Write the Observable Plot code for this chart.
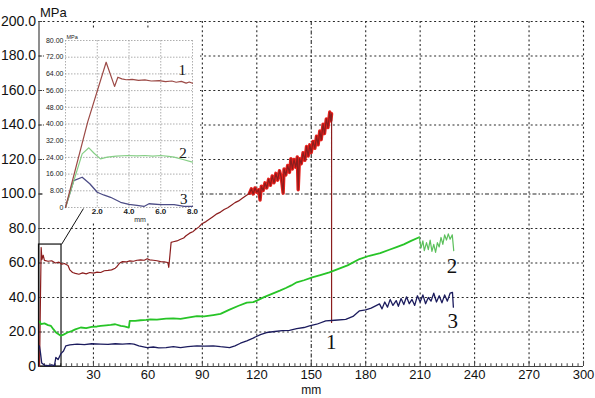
<!DOCTYPE html>
<html><head><meta charset="utf-8">
<script src="https://cdn.jsdelivr.net/npm/d3@7"></script>
<script src="https://cdn.jsdelivr.net/npm/@observablehq/plot@0.6"></script>
<style>
html,body{margin:0;padding:0;background:#fff;}
#wrap{position:relative;width:595px;height:398px;overflow:hidden;}
#wrap svg{position:absolute;left:0;top:0;}
</style></head><body><div id="wrap"></div>
<script>
// ---------- main chart data (mm, MPa) ----------
const xTicks = [30, 60, 90, 120, 150, 180, 210, 240, 270, 300];
const yTicks = [0, 20, 40, 60, 80, 100, 120, 140, 160, 180, 200];

const curve1 = [[0.3,0],[0.8,40],[1.2,69],[1.6,62],[2.3,64.5],[3,61.5],[5,61],[7,61.3],[9,60],[11,60.5],[12.6,59.3],[14,59.7],[16,58.5],[17,56],[18.5,54.5],[20,54],[22,53.5],[24,54.3],[26,53.7],[28,54.5],[30,54.1],[32,54.7],[34,54.5],[36,55.5],[38,55.7],[40,56],[42,57],[43,58],[44.5,60],[46,60.8],[48,60.6],[50,61.2],[52,61],[54,61.6],[56,61.8],[58,61.6],[59.6,62.5],[61,61.8],[63,61.6],[65,61.3],[67,60.8],[69,60.6],[71,60.3],[71.5,57.5],[72,63],[72.8,72],[74,72.3],[76,72.8],[78,73.8],[79.7,74.5],[81,75.8],[83,77.3],[85,78.3],[86,79.3],[88,80.8],[89.8,82.8],[92,84],[94,85.5],[96,87],[98,88.5],[100,89.5],[102,91],[104,92],[106,93.5],[108,95],[110,96],[112,97.5],[114,99],[116,100.5],[117,103],[118,100],[119,103.5],[120,101],[121,102.5],[121.8,96.5],[122.5,104.5],[123.5,102],[124.5,106.5],[125.5,103.5],[126.5,108.5],[127.5,105],[128.5,110.5],[129.5,106.5],[130.5,112],[131.5,108],[132.5,113.5],[133.5,109.5],[134.5,100.5],[135,114.5],[136,111],[137,116.5],[138,112.5],[138.8,120.5],[139.6,114.5],[140.5,120],[141.5,115.5],[142.3,121.5],[142.8,102.5],[143.5,120.5],[144.5,117.5],[145.5,124],[146.5,119.5],[147.4,127.5],[148.3,122],[149.2,128.5],[150,124],[151,130.5],[152,126.5],[152.9,133.5],[153.8,128.5],[154.7,136.5],[155.5,131.5],[156.5,140.5],[157.3,135],[158.3,143.5],[159.2,138.5],[160.2,147.5],[160.8,142.5],[161.2,146.5],[161.2,25.5]];
const curve1Noisy = curve1.filter(d => d[0] >= 116 && d[1] > 60);

const curve2 = [[0.5,26],[1,24.5],[3,25],[5,24],[6.6,23.5],[8,21.5],[9.4,19.7],[11,18.5],[12,17.8],[13.5,18.5],[15.7,19.7],[18,20.5],[20,21.5],[23,22.6],[26,22.3],[29,23],[32,23.2],[34,23.5],[37,23.8],[39.5,24.1],[42,24.5],[45,23.5],[47,23.2],[49.5,22.6],[50,26.4],[53,26.5],[56,26.8],[59,27],[61.4,27.3],[65,27.2],[70,27.8],[74,27.9],[78,27.6],[82,28.3],[87,29.2],[91,29],[96,29.8],[100,30.5],[105,33],[110,35.2],[114.5,37],[118,37.3],[120,38.2],[124,40.2],[128,42],[132.7,44],[136,45.5],[139,47],[142,48.8],[146,50],[151,51.8],[155,53],[160,54.6],[165,56.6],[170,58.6],[176.6,62.3],[182,64.2],[188,65.7],[193,67.7],[197,69.2],[201,70.8],[205,72.8],[209.5,74.9]];
const curve2Tail = [[209.5,74.9],[210.5,68.8],[211.5,72.8],[212.3,67.2],[213.5,71.8],[214.5,67.7],[215.5,73.3],[216.5,66.7],[217.5,70.8],[218.5,66.2],[219.5,71.8],[220.5,69.3],[221.5,74.8],[222.5,70.8],[223.5,76.3],[224.5,73.3],[225.5,76.9],[226.5,73.8],[227.7,76.3],[228.5,67.2]];

const curve3 = [[0.2,12],[0.8,8],[1.5,2],[3,0.8],[5,0.5],[7,1],[8.5,0.5],[9.3,5.3],[10.5,4],[12,7.3],[13.5,9],[14.8,12],[17,12.5],[21,13],[25,12.7],[29,13.2],[34,13],[38,12.8],[42,13.2],[46,13],[50,13.3],[52.3,13],[55,12],[59.6,11],[63,11.3],[66,10.8],[70,11],[74,11.5],[78,11],[82,11.5],[87,12],[91,11.8],[96,12],[100,11.5],[105,11],[108,12],[111,13.5],[114.5,14.9],[118,16.5],[122,18.5],[125.4,19.7],[130,20.3],[134,20.8],[138,21],[142,22],[146,22.6],[149,23.5],[153,24.5],[158,26.4],[163,26.8],[169,27.3],[173,29],[176.6,32.3],[180,32.8],[183,33.8],[186,35.4],[187.6,36.3],[189,33.4],[190.5,37.4],[192,34.4],[193.5,38.9],[195,35.4],[196.8,38.2],[198,34.9],[199.5,39.4],[201,35.9],[202.5,40.4],[204,36.4],[205.5,38.9],[207,35.4],[208.5,41],[210,37.4],[211.5,41.5],[213,36.4],[214.5,40],[216,37.9],[217.5,42.5],[219,37.4],[220.5,41],[222,36.9],[223.5,41.5],[225,37.9],[226.5,42.5],[227.8,43],[228.3,34.4]];

const curveLabels = [{x:161, y:14, t:"1"}, {x:227.5, y:58, t:"2"}, {x:228, y:26.5, t:"3"}];
const zoomBox = {x1:0, x2:12.4, y1:0, y2:70.7};

// ---------- inset data (mm, MPa) ----------
const insetXTicks = [0, 2, 4, 6, 8];
const insetYTicks = [0, 8, 16, 24, 32, 40, 48, 56, 64, 72, 80];
const inset1 = [[0,0],[1.4,41],[2.56,69.6],[3.09,58],[3.3,62.4],[3.55,61.6],[3.82,61.2],[4.2,61.4],[4.6,60.9],[5,61.1],[5.4,60.6],[5.9,60.8],[6.3,60.3],[6.7,60.6],[6.97,60],[7.3,60.4],[7.6,59.6],[7.8,60.1],[8,59.5]];
const inset2 = [[0,0],[1.05,25.7],[1.47,28.6],[1.8,26],[2.2,23.3],[2.63,24.1],[3.2,24.6],[3.9,24.9],[4.5,24.7],[5,24.9],[5.5,24.6],[6,24.9],[6.5,24.5],[6.84,24.1],[7.4,23],[8,21.7]];
const inset3 = [[0,0],[0.52,12.9],[1.05,14.5],[1.53,11.4],[2.0,7.3],[2.4,6],[2.84,4.9],[3.47,2.5],[4.0,1.5],[4.5,1],[4.94,0.5],[5.26,1.8],[6,1.4],[6.84,1.4],[7.47,0.5],[8,0.5]];
const insetLabels = [{x:7.35, y:65.6, t:"1"}, {x:7.4, y:26, t:"2"}, {x:7.45, y:4.2, t:"3"}];
const connector = [{x1:-0.25, y1:-17.7, x2:1.13, y2:-0.5}];

const sans = "Liberation Sans, Arial, sans-serif";
const serif = "Liberation Serif, Times New Roman, serif";
const minorX = d3.range(3, 300, 3).filter(d => d % 30 !== 0);

const main = Plot.plot({
  width: 595, height: 398,
  marginLeft: 38.5, marginRight: 12, marginTop: 21, marginBottom: 32,
  x: {domain: [0, 300], label: null},
  y: {domain: [0, 200], label: null},
  style: {background: "white", fontFamily: sans, color: "#111"},
  marks: [
    Plot.ruleY(yTicks.filter(d => d > 0 && d !== 100), {stroke: "#2a2a2a", strokeDasharray: "2,2.6", strokeWidth: 1.1}),
    Plot.ruleX(xTicks.filter(d => d !== 150), {stroke: "#2a2a2a", strokeDasharray: "2,2.6", strokeWidth: 1.1}),
    Plot.ruleY([100], {stroke: "#2a2a2a", strokeDasharray: "4,2,1.5,2", strokeWidth: 1.1}),
    Plot.ruleX([150], {stroke: "#2a2a2a", strokeDasharray: "4,2,1.5,2", strokeWidth: 1.1}),
    Plot.ruleY([0], {stroke: "#444", strokeWidth: 1.2}),
    Plot.ruleX([0], {stroke: "#444", strokeWidth: 1.2}),
    Plot.ruleX(minorX, {y1: 0, y2: 1.6, stroke: "#444"}),
    Plot.ruleX(xTicks, {y1: 0, y2: 3, stroke: "#444"}),
    Plot.ruleY(yTicks, {x1: 0, x2: 2, stroke: "#444"}),
    Plot.axisX({ticks: xTicks, tickSize: 0, tickPadding: 3, fontSize: 13, label: null}),
    Plot.axisY({ticks: yTicks, tickSize: 0, tickPadding: 3, fontSize: 14, label: null,
      tickFormat: d => d === 0 ? "0" : d.toFixed(1)}),
    Plot.rect([zoomBox], {x1: "x1", x2: "x2", y1: "y1", y2: "y2", fill: "none", stroke: "#111", strokeWidth: 1.2}),
    Plot.line(curve1Noisy, {x: d => d[0], y: d => d[1], stroke: "#e8201c", strokeWidth: 3.4}),
    Plot.line(curve1, {x: d => d[0], y: d => d[1], stroke: "#8b1d1d", strokeWidth: 1.2}),
    Plot.line(curve2, {x: d => d[0], y: d => d[1], stroke: "#27c427", strokeWidth: 1.8}),
    Plot.line(curve2Tail, {x: d => d[0], y: d => d[1], stroke: "#5cc05c", strokeWidth: 1.2}),
    Plot.line(curve3, {x: d => d[0], y: d => d[1], stroke: "#1c1c5e", strokeWidth: 1.3}),
    Plot.text(curveLabels, {x: "x", y: "y", text: "t", fontFamily: serif, fontSize: 21, fill: "#111"}),
    Plot.text([{x: 0, y: 200, t: "MPa"}], {x: "x", y: "y", text: "t", textAnchor: "start", dx: 1, dy: -9, fontSize: 13}),
    Plot.text([{x: 150, y: 0, t: "mm"}], {x: "x", y: "y", text: "t", dy: 24, fontSize: 12})
  ]
});

const inset = Plot.plot({
  width: 156, height: 193,
  marginLeft: 21, marginRight: 8, marginTop: 11, marginBottom: 15,
  x: {domain: [0, 8], label: null},
  y: {domain: [0, 80], label: null},
  style: {background: "white", fontFamily: sans, color: "#222", overflow: "visible"},
  marks: [
    Plot.ruleY(insetYTicks, {stroke: "#999", strokeDasharray: "1.5,1.5", strokeWidth: 0.8}),
    Plot.ruleX(insetXTicks, {stroke: "#999", strokeDasharray: "1.5,1.5", strokeWidth: 0.8}),
    Plot.axisY({ticks: insetYTicks, tickSize: 0, tickPadding: 2, fontSize: 7, label: null,
      tickFormat: d => d === 0 ? "0" : d.toFixed(2)}),
    Plot.axisX({ticks: insetXTicks.filter(d => d > 0), tickSize: 0, tickPadding: 0.5, fontSize: 8, fontWeight: "bold", label: null,
      tickFormat: d => d.toFixed(1)}),
    Plot.line(inset3, {x: d => d[0], y: d => d[1], stroke: "#4c4c86", strokeWidth: 1.3}),
    Plot.line(inset2, {x: d => d[0], y: d => d[1], stroke: "#86cf86", strokeWidth: 1.2}),
    Plot.line(inset1, {x: d => d[0], y: d => d[1], stroke: "#9c4a46", strokeWidth: 1.2}),
    Plot.text(insetLabels, {x: "x", y: "y", text: "t", fontFamily: serif, fontSize: 15, fill: "#111"}),
    Plot.text([{x: 0, y: 80, t: "MPa"}], {x: "x", y: "y", text: "t", textAnchor: "start", dx: 1, dy: -3, fontSize: 5.5}),
    Plot.text([{x: 4.7, y: 0, t: "mm"}], {x: "x", y: "y", text: "t", dy: 12, fontSize: 7}),
    Plot.link(connector, {x1: "x1", y1: "y1", x2: "x2", y2: "y2", stroke: "#111", strokeWidth: 1})
  ]
});

const wrap = document.getElementById("wrap");
wrap.appendChild(main);
inset.style.left = "44px";
inset.style.top = "29px";
inset.style.overflow = "visible";
wrap.appendChild(inset);
</script>
</body></html>
